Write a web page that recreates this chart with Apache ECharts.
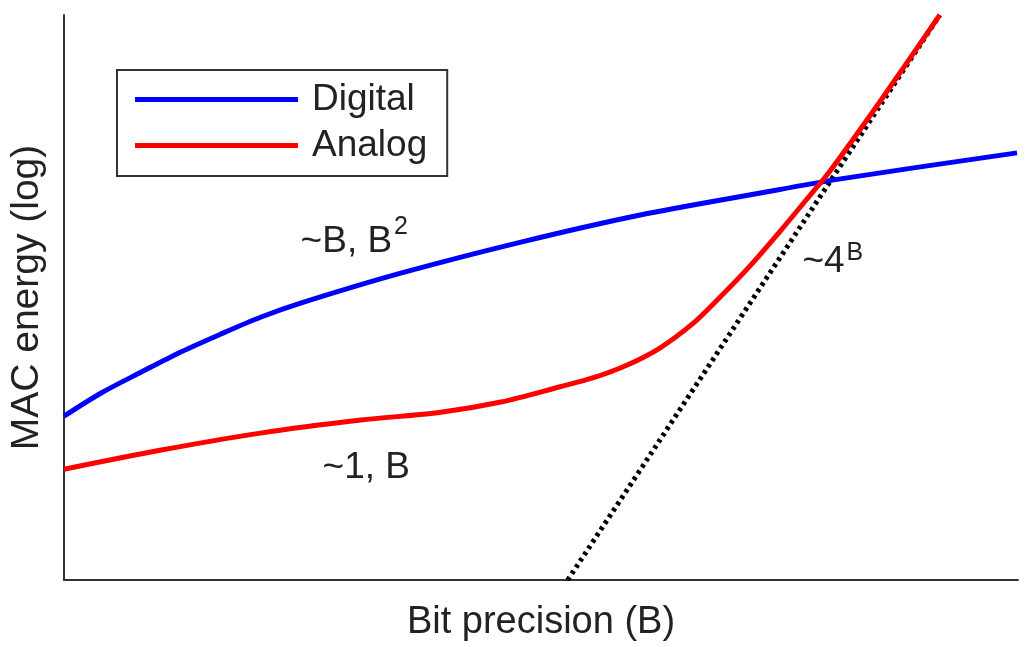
<!DOCTYPE html>
<html>
<head>
<meta charset="utf-8">
<title>MAC energy vs bit precision</title>
<script src="https://cdn.jsdelivr.net/npm/echarts@6/dist/echarts.min.js"></script>
<style>
  html, body { margin: 0; padding: 0; background: #fff; }
  #main { width: 1033px; height: 647px; }
</style>
</head>
<body>
<div id="main"></div>
<script>
// 横轴: 位精度 B (0..100 相对刻度), 纵轴: MAC 能耗 (log, 0..100 相对刻度)
var digitalB = [0, 3.9, 8.1, 12.3, 16.4, 20.6, 24.8, 35.3, 47.9, 60.4, 73.0, 81.4, 99.9];
var digitalE = [29.0, 33.1, 36.8, 40.4, 43.5, 46.5, 49.0, 54.3, 59.8, 64.6, 68.5, 71.0, 75.6];

var analogB = [0, 10.2, 20.6, 31.1, 39.5, 45.8, 52.0, 55.5, 59.1, 62.5, 66.0, 68.5, 71.7, 75.1, 78.5, 80.3, 85.5, 91.8];
var analogE = [19.6, 23.0, 26.0, 28.3, 29.7, 31.5, 34.2, 35.8, 38.1, 41.1, 45.5, 49.6, 55.2, 61.8, 68.7, 72.4, 84.6, 100];

// ~4^B 渐近线
var scalingB = [52.8, 91.8];
var scalingE = [0, 100];

// 注释文字
var noteText = ['{m|~B, B}{s|2}', '{n|~1, B}', '{n|~4}{s|B}'];
var noteB = [24.8, 27.1, 77.4];
var noteE = [60.6, 20.2, 56.5];

function zip(xs, ys) {
    return xs.map(function (x, i) { return [x, ys[i]]; });
}

var font = 'Liberation Sans, Arial, sans-serif';
var ink = '#222';

var myChart = echarts.init(document.getElementById('main'));
myChart.setOption({
    animation: false,
    backgroundColor: '#fff',
    textStyle: { fontFamily: font, color: ink },
    grid: { left: 63, right: 15, top: 15, bottom: 67 },
    legend: {
        data: ['Digital', 'Analog'],
        orient: 'vertical',
        left: 117,
        top: 70,
        icon: 'rect',
        itemWidth: 163,
        itemHeight: 5,
        itemGap: 9,
        padding: [11, 20, 12, 18],
        borderColor: '#333',
        borderWidth: 2,
        textStyle: { fontSize: 37, color: ink, fontFamily: font, padding: [0, 0, 0, 9] }
    },
    xAxis: {
        type: 'value',
        min: 0,
        max: 100,
        name: 'Bit precision (B)',
        nameLocation: 'middle',
        nameGap: 24,
        nameTextStyle: { fontSize: 38, color: ink, fontFamily: font },
        axisLine: { show: true, lineStyle: { color: '#333', width: 2 } },
        axisTick: { show: false },
        axisLabel: { show: false },
        splitLine: { show: false }
    },
    yAxis: {
        type: 'value',
        min: 0,
        max: 100,
        name: 'MAC energy (log)',
        nameLocation: 'middle',
        nameGap: 17,
        nameTextStyle: { fontSize: 39, color: ink, fontFamily: font },
        axisLine: { show: true, lineStyle: { color: '#333', width: 2 } },
        axisTick: { show: false },
        axisLabel: { show: false },
        splitLine: { show: false }
    },
    series: [
        {
            name: '~4^B',
            type: 'line',
            data: zip(scalingB, scalingE),
            symbol: 'none',
            z: 1,
            lineStyle: { color: '#000', width: 5, type: [3.5, 4] }
        },
        {
            name: 'Digital',
            type: 'line',
            data: zip(digitalB, digitalE),
            smooth: 0.3,
            symbol: 'none',
            color: '#0000ff',
            z: 2,
            lineStyle: { color: '#0000ff', width: 5 }
        },
        {
            name: 'Analog',
            type: 'line',
            data: zip(analogB, analogE),
            smooth: 0.3,
            symbol: 'none',
            color: '#ff0000',
            z: 3,
            lineStyle: { color: '#ff0000', width: 5 }
        },
        {
            name: 'notes',
            type: 'scatter',
            symbolSize: 0,
            silent: true,
            itemStyle: { opacity: 1 },
            data: noteB.map(function (b, i) {
                return { value: [b, noteE[i]], label: { formatter: noteText[i] } };
            }),
            label: {
                show: true,
                position: 'right',
                distance: 0,
                color: ink,
                rich: {
                    m: { fontSize: 37, color: ink, fontFamily: font, padding: [9, 0, 0, 0] },
                    n: { fontSize: 37, color: ink, fontFamily: font, padding: [3, 0, 0, 0] },
                    s: { fontSize: 25, color: ink, fontFamily: font, verticalAlign: 'top', padding: [0, 0, 0, 2] }
                }
            }
        }
    ]
});
</script>
</body>
</html>
